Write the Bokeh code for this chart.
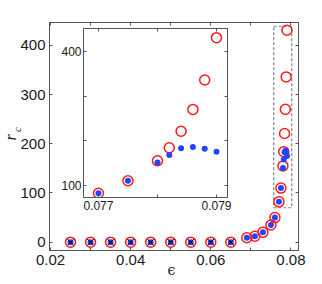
import math
from bokeh.plotting import figure
from bokeh.models import Range1d, LinearAxis, FixedTicker, Label, PrintfTickFormatter, CustomJSTickFormatter
from bokeh.layouts import column
from bokeh.embed import file_html
from bokeh.resources import INLINE

# ---- data ----
eps = [0.025, 0.030, 0.035, 0.040, 0.045, 0.050, 0.055, 0.060, 0.065,
       0.069, 0.071, 0.073, 0.075, 0.076, 0.077, 0.0775, 0.078, 0.0782,
       0.0784, 0.0786, 0.0788, 0.079]
r_red = [0, 0, 0, 0, 0, 0, 0, 0, 0,
         9, 12, 20, 35, 50, 82, 110, 155, 184, 221, 270, 336, 431]
r_blue = [0, 0, 0, 0, 0, 0, 0, 0, 0,
          9, 12, 20, 35, 50, 82, 110, 151, 168, 183, 186, 182, 175]
eps_x = [0.025, 0.030, 0.035, 0.040, 0.045, 0.050, 0.055, 0.060, 0.065]
r_x = [0, 0, 0, 0, 0, 0, 0, 0, 0]

main_x_major = [0.02, 0.04, 0.06, 0.08]
main_x_minor = [0.03, 0.05, 0.07]
main_y_major = [0, 100, 200, 300, 400]
ins_x_major = [0.077, 0.079]
ins_x_minor = [0.078]
ins_y_major = [100, 400]
ins_y_minor = [200, 300]

zoom_box = dict(left=0.0757, right=0.0802, bottom=70, top=439)

AX = "#555555"
RED = "#ff1a1a"
BLUE = "#2244ff"
TXT = "#1a1a1a"


def style_axis(ax, size, standoff, labels=True):
    ax.axis_line_color = AX
    ax.major_tick_line_color = AX
    ax.minor_tick_line_color = AX
    ax.major_tick_in = 3
    ax.major_tick_out = 0
    ax.minor_tick_in = 3
    ax.minor_tick_out = 0
    ax.major_label_text_font = "Liberation Sans"
    ax.major_label_text_font_size = size
    ax.major_label_text_color = TXT
    ax.major_label_standoff = standoff
    if not labels:
        ax.formatter = CustomJSTickFormatter(code="return ''")


def markers(fig, rs, bs, xs):
    fig.scatter(eps, r_red, marker="circle", size=rs, fill_color=None,
                line_color=RED, line_width=1.5)
    fig.scatter(eps, r_blue, marker="circle", size=bs, fill_color=BLUE,
                line_color=None)
    fig.scatter(eps_x, r_x, marker="x", size=xs, line_color="black",
                line_width=1)


# ---- main figure ----
p = figure(width=310, height=276, x_range=Range1d(0.01975, 0.08188),
           y_range=Range1d(-16.9, 446.6), output_backend="svg",
           toolbar_location=None, x_axis_type=None, y_axis_type=None,
           min_border_left=49, min_border_right=12, min_border_top=22,
           min_border_bottom=26)
p.outline_line_color = AX
p.background_fill_color = "white"
p.border_fill_color = "white"

xt = FixedTicker(ticks=main_x_major, minor_ticks=main_x_minor)
yt = FixedTicker(ticks=main_y_major, minor_ticks=[])

xb = LinearAxis(ticker=xt, formatter=PrintfTickFormatter(format="%.2f"))
style_axis(xb, "15px", 4)
p.add_layout(xb, "below")
xa = LinearAxis(ticker=xt)
style_axis(xa, "15px", 4, labels=False)
p.add_layout(xa, "above")
yl = LinearAxis(ticker=yt, formatter=PrintfTickFormatter(format="%d"))
style_axis(yl, "15px", 4)
p.add_layout(yl, "left")
yr = LinearAxis(ticker=yt)
style_axis(yr, "15px", 4, labels=False)
p.add_layout(yr, "right")

p.quad(left=[zoom_box["left"]], right=[zoom_box["right"]],
       bottom=[zoom_box["bottom"]], top=[zoom_box["top"]],
       fill_alpha=0, line_color="#808080", line_dash="3 2", line_width=1.2)

markers(p, 10, 6, 9)

# ---- inset ----
ins = figure(width=205, height=189, x_range=Range1d(0.076747, 0.079186),
             y_range=Range1d(72.5, 451.5), output_backend="svg",
             toolbar_location=None, x_axis_type=None, y_axis_type=None,
             min_border_left=49, min_border_right=12, min_border_top=2,
             min_border_bottom=18, margin=(-250, 0, 0, 34))
ins.outline_line_color = AX
ins.background_fill_color = "white"
ins.border_fill_alpha = 0

ixt = FixedTicker(ticks=ins_x_major, minor_ticks=ins_x_minor)
iyt = FixedTicker(ticks=ins_y_major, minor_ticks=ins_y_minor)
ixb = LinearAxis(ticker=ixt, formatter=PrintfTickFormatter(format="%.3f"))
style_axis(ixb, "12px", 3)
ins.add_layout(ixb, "below")
ixa = LinearAxis(ticker=ixt)
style_axis(ixa, "12px", 3, labels=False)
ins.add_layout(ixa, "above")
iyl = LinearAxis(ticker=iyt, formatter=PrintfTickFormatter(format="%d"))
style_axis(iyl, "12px", 2)
ins.add_layout(iyl, "left")
iyr = LinearAxis(ticker=iyt)
style_axis(iyr, "12px", 2, labels=False)
ins.add_layout(iyr, "right")

markers(ins, 10, 6, 9)

# ---- transparent text layer for axis titles (page pixel space) ----
lab = figure(width=310, height=276, x_range=Range1d(0, 249),
             y_range=Range1d(276, 0), output_backend="svg",
             toolbar_location=None, x_axis_type=None, y_axis_type=None,
             min_border_left=49, min_border_right=12, min_border_top=0,
             min_border_bottom=0, margin=(-215, 0, 0, -49))
lab.outline_line_color = None
lab.background_fill_alpha = 0
lab.border_fill_alpha = 0
lab.add_layout(Label(x=171, y=269, text="ϵ", text_font="DejaVu Serif",
                     text_font_size="14px", text_align="center",
                     text_baseline="middle", text_color=TXT))
lab.add_layout(Label(x=10, y=137, text="r", text_font="Liberation Serif",
                     text_font_style="italic", text_font_size="16px",
                     text_align="center", text_baseline="middle",
                     angle=math.pi / 2, text_color=TXT))
lab.add_layout(Label(x=16, y=129, text="c", text_font="Liberation Serif",
                     text_font_style="italic", text_font_size="11px",
                     text_align="center", text_baseline="middle",
                     angle=math.pi / 2, text_color=TXT))

layout = column(p, ins, lab)
open("out.html", "w").write(file_html(layout, INLINE))
